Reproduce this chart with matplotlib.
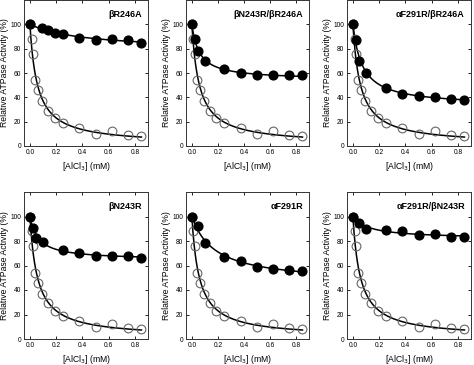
import numpy as np
import matplotlib
matplotlib.use("Agg")
import matplotlib.pyplot as plt

plt.rcParams['font.family'] = ['Liberation Sans', 'DejaVu Sans']

titles = ["\u03b2R246A", "\u03b2N243R/\u03b2R246A", "\u03b1F291R/\u03b2R246A",
          "\u03b2N243R", "\u03b1F291R", "\u03b1F291R/\u03b2N243R"]

# open circles (wild type reference, same in every panel)
open_x = [0, 0.0125, 0.025, 0.0425, 0.0625, 0.09, 0.14, 0.1875, 0.25, 0.375, 0.5, 0.625, 0.75, 0.85]
open_y = [100, 88, 76, 54, 46, 37, 29, 23, 19, 15, 10, 12, 9, 8]

# filled circles (mutants)
filled_x = [
    [0, 0.09, 0.14, 0.1875, 0.25, 0.375, 0.5, 0.625, 0.75, 0.85],
    [0, 0.025, 0.05, 0.1, 0.25, 0.375, 0.5, 0.625, 0.75, 0.85],
    [0, 0.025, 0.05, 0.1, 0.25, 0.375, 0.5, 0.625, 0.75, 0.85],
    [0, 0.025, 0.05, 0.1, 0.25, 0.375, 0.5, 0.625, 0.75, 0.85],
    [0, 0.05, 0.1, 0.25, 0.375, 0.5, 0.625, 0.75, 0.85],
    [0, 0.05, 0.1, 0.25, 0.375, 0.5, 0.625, 0.75, 0.85],
]
filled_y = [
    [100, 97, 95, 93, 92, 89, 87, 88, 87, 85],
    [100, 88, 78, 70, 63.5, 60, 58, 58, 58, 58],
    [100, 87, 70, 60, 48, 42.5, 41.5, 40, 39, 38],
    [100, 91, 82.5, 79, 72.5, 70.5, 68, 68, 67.5, 66],
    [100, 92, 78, 67, 64, 58.5, 57, 56.5, 55.5],
    [100, 95, 90, 89, 88.5, 85, 85.5, 83.5, 83],
]

xticks = [0.0, 0.2, 0.4, 0.6, 0.8]
yticks = [0, 20, 40, 60, 80, 100]


def fit_curve(x, y):
    """Least-squares fit of y = B + (100-B)*K/(K+x) by grid search."""
    x = np.asarray(x, float)
    y = np.asarray(y, float)
    best = None
    for K in np.linspace(0.005, 0.5, 400):
        h = K / (K + x)
        a = 1 - h
        denom = np.sum(a * a)
        B = np.sum(a * (y - 100 * h)) / denom if denom > 0 else 0
        r = np.sum((B + (100 - B) * h - y) ** 2)
        if best is None or r < best[0]:
            best = (r, K, B)
    _, K, B = best
    xs = np.linspace(0, max(x), 300)
    return xs, B + (100 - B) * K / (K + xs)


W, H = 474, 365
fig = plt.figure(figsize=(W / 100, H / 100), dpi=100)

cols = [(24, 148), (186, 309), (347, 471)]
rows = [(0, 146), (192, 339)]

for i in range(6):
    r, c = divmod(i, 3)
    l, rr = cols[c]
    t, b = rows[r]
    ax = fig.add_axes([l / W, 1 - b / H, (rr - l) / W, (b - t) / H])
    ox, oy = fit_curve(open_x, open_y)
    fx, fy = fit_curve(filled_x[i], filled_y[i])
    ax.plot(ox, oy, color='black', lw=1.1, zorder=2)
    ax.plot(fx, fy, color='black', lw=1.1, zorder=2)
    ax.plot(open_x, open_y, 'o', ms=6.3, mfc='none', mec='#666666', mew=0.8, zorder=3)
    ax.plot(filled_x[i], filled_y[i], 'o', ms=6.3, mfc='black', mec='black', zorder=4)
    ax.set_xlim(-0.045, 0.9)
    ax.set_ylim(0, 120)
    ax.set_xticks(xticks)
    ax.set_xticklabels([f"{v:.1f}" for v in xticks])
    ax.set_yticks(yticks)
    ax.tick_params(direction='in', top=True, right=True, labelsize=4.8, length=2.5, width=0.6, pad=2)
    for s in ax.spines.values():
        s.set_linewidth(0.7)
        s.set_color('#333333')
    ax.set_ylabel("Relative ATPase Activity (%)", fontsize=6.2, labelpad=1)
    ax.set_xlabel("[AlCl$_3$] (mM)", fontsize=6.2, labelpad=3)
    ax.text(0.95, 0.93, titles[i], transform=ax.transAxes, ha='right', va='top',
            fontsize=6.5, fontweight='bold')

fig.savefig("out.png", dpi=100)
